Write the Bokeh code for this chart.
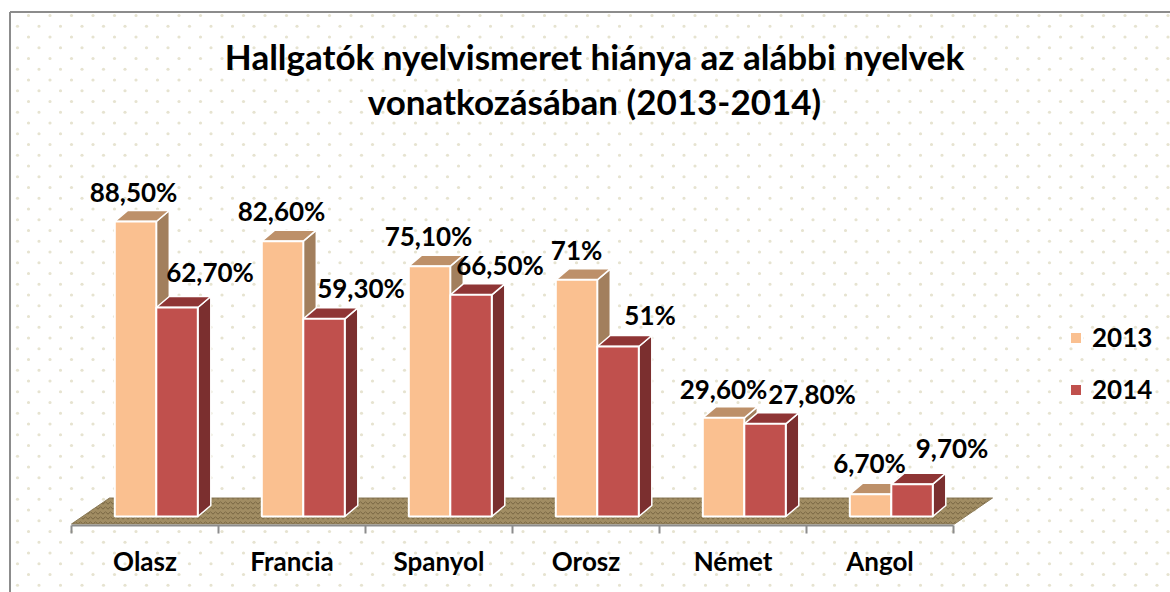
from bokeh.plotting import figure
from bokeh.models import ColumnDataSource, Range1d, FixedTicker, Legend, LegendItem
from bokeh.core.properties import value
from bokeh.embed import file_html
from bokeh.resources import INLINE

# ---- data ----
categories = ["Olasz", "Francia", "Spanyol", "Orosz", "Német", "Angol"]
values_2013 = [88.5, 82.6, 75.1, 71.0, 29.6, 6.7]
values_2014 = [62.7, 59.3, 66.5, 51.0, 27.8, 9.7]
labels_2013 = ["88,50%", "82,60%", "75,10%", "71%", "29,60%", "6,70%"]
labels_2014 = ["62,70%", "59,30%", "66,50%", "51%", "27,80%", "9,70%"]
title_lines = ["Hallgatók nyelvismeret hiánya az alábbi nyelvek", "vonatkozásában (2013-2014)"]

# ---- layout (page pixels) ----
W, H = 1170, 592
PAGE = 0
BASE_PY = 516.0
PX_PER_PCT = 3.333
TICK0_PX = 71.0
PX_PER_CAT = 147.0
FONT = value("Lato")

def x_of(px):
    return (px - TICK0_PX) / PX_PER_CAT
def y_of(py):
    return (BASE_PY - py) / PX_PER_PCT

DX = 13 / PX_PER_CAT        # depth of the 3-D bars
DY = 11 / PX_PER_PCT
BAR_W = 41.5 / PX_PER_CAT
BAR0 = 43.3 / PX_PER_CAT

p = figure(width=W, height=H, output_backend="svg", toolbar_location=None,
           x_range=Range1d(x_of(PAGE), x_of(PAGE + W)),
           y_range=Range1d(y_of(PAGE + H), y_of(PAGE)),
           min_border=0, outline_line_color=None, y_axis_location=None)
p.grid.visible = False
p.background_fill_color = "white"
p.border_fill_color = "white"

# dotted paper background
dx_, dy_ = [], []
row = 0
py = 15.0
while py < 592:
    px = 28.0 if row % 2 == 0 else 17.0
    while px < 1172:
        dx_.append(x_of(px)); dy_.append(y_of(py))
        px += 21.5
    py += 10.75
    row += 1
p.scatter(dx_, dy_, size=3.2, marker="circle", fill_color="#e6e3d0", line_color=None)

# chart frame
p.segment(x_of(9.5), y_of(11.5), x_of(1172), y_of(11.5), line_color="#8c8c8c", line_width=2)
p.segment(x_of(9.5), y_of(11.5), x_of(9.5), y_of(594), line_color="#8c8c8c", line_width=2)

# floor
floor_x = [x_of(71), x_of(954), x_of(992), x_of(109)]
floor_y = [y_of(523.5), y_of(523.5), y_of(497.5), y_of(497.5)]
p.patch(floor_x, floor_y, fill_color="#a18d63", line_color="#8a7a58", line_width=1,
        hatch_pattern="horizontal_wave", hatch_color="#5f4f30", hatch_scale=5,
        hatch_alpha=0.65, hatch_weight=1)

# axis drawn at the front edge of the floor
ax = p.xaxis[0]
ax.fixed_location = y_of(524.5)
ax.bounds = (0, len(categories))
ax.ticker = FixedTicker(ticks=[i + 0.5 for i in range(len(categories))],
                        minor_ticks=list(range(len(categories) + 1)))
ax.major_label_overrides = {i + 0.5: c for i, c in enumerate(categories)}
ax.major_tick_line_color = None
ax.minor_tick_out = 8
ax.minor_tick_in = 0
ax.minor_tick_line_color = "#8c8c8c"
ax.minor_tick_line_width = 2
ax.axis_line_color = "#8c8c8c"
ax.axis_line_width = 2
ax.major_label_text_font = "Lato"
ax.major_label_text_font_style = "bold"
ax.major_label_text_font_size = "26px"
ax.major_label_text_color = "black"
ax.major_label_standoff = 12

def bars(vals, offset, front, top, side):
    lefts = [i + BAR0 + offset for i in range(len(vals))]
    rights = [l + BAR_W for l in lefts]
    p.patches([[r, r + DX, r + DX, r] for r, v in zip(rights, vals)],
              [[0, DY, v + DY, v] for v in vals],
              fill_color=side, line_color="white", line_width=1.5)
    p.patches([[l, l + DX, r + DX, r] for l, r in zip(lefts, rights)],
              [[v, v + DY, v + DY, v] for v in vals],
              fill_color=top, line_color="white", line_width=1.5)
    return p.quad(left=lefts, right=rights, bottom=0, top=vals,
                  fill_color=front, line_color="white", line_width=2)

r13 = bars(values_2013, 0, "#fac090", "#bd9069", "#a27f5d")
r14 = bars(values_2014, BAR_W, "#c0504d", "#8f3535", "#7b2f2f")

# data labels, with the hand placement the original chart has
off13_x = [-2, -1, -1, 0, 0, -1]
off13_y = [30, 30, 30, 30, 29, 31]
off14_x = [33, 37, 29, 32, 47, 40]
off14_y = [36, 31, 30, 32, 30, 36]
def lab(vals, texts, offset, ox, oy):
    src = ColumnDataSource(dict(x=[i + BAR0 + offset + BAR_W / 2 for i in range(len(vals))],
                                y=vals, t=texts, ox=ox, oy=[-o for o in oy]))
    p.text("x", "y", text="t", source=src, x_offset="ox", y_offset="oy",
           text_font=FONT, text_font_style="bold", text_font_size="26px", text_color="black",
           text_align="center", text_baseline="middle")
lab(values_2013, labels_2013, 0, off13_x, off13_y)
lab(values_2014, labels_2014, BAR_W, off14_x, off14_y)

# title
p.text([x_of(594)] * 2, [y_of(55), y_of(100)], text=title_lines,
       text_font=FONT, text_font_style="bold", text_font_size="35px", text_color="black",
       text_align="center", text_baseline="middle")

legend = Legend(items=[LegendItem(label="2013", renderers=[r13]),
                       LegendItem(label="2014", renderers=[r14])],
                location=(1068, 187), background_fill_alpha=0, border_line_color=None,
                glyph_width=15, glyph_height=15, spacing=20, label_standoff=9,
                label_text_font="Lato", label_text_font_style="bold",
                label_text_font_size="26px", label_text_color="black")
p.add_layout(legend, "center")

open("out.html", "w").write(file_html(p, INLINE))
